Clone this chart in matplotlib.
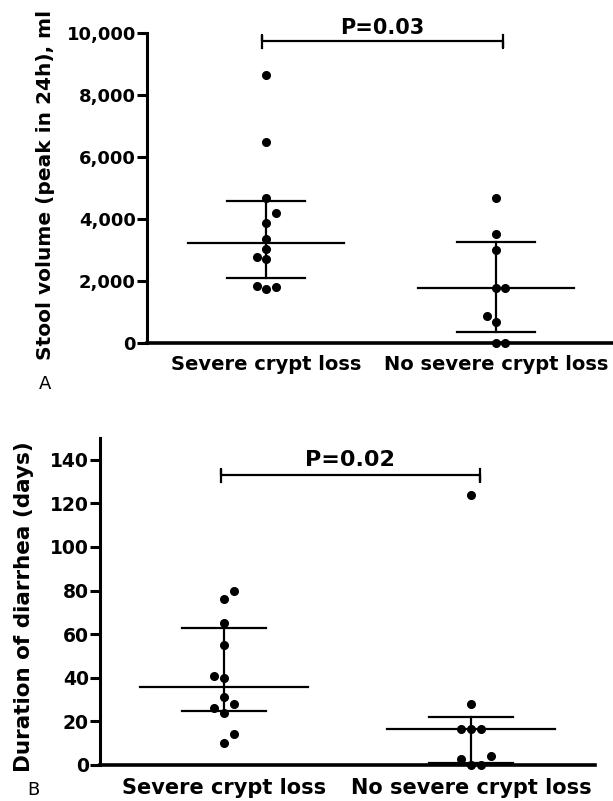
import matplotlib
matplotlib.use("Agg")
import matplotlib.pyplot as plt

# groups on the x axis
groups = ["Severe crypt loss", "No severe crypt loss"]

# panel A: peak stool volume in 24h (ml)
stool_severe = [8630, 6480, 4690, 4200, 3870, 3350, 3030, 2760, 2700, 1850, 1750, 1815]
stool_severe_dx = [0, 0, 0, 0.04, 0, 0, 0, -0.04, 0, -0.04, 0, 0.04]
stool_none = [4680, 3510, 2990, 1760, 1760, 870, 675, 0, 0]
stool_none_dx = [0, 0, 0, 0, 0.04, -0.04, 0, 0, 0.04]
stool_median = [3210, 1780]
stool_q1 = [2090, 350]
stool_q3 = [4590, 3260]
stool_ticks = [0, 2000, 4000, 6000, 8000, 10000]
stool_ticklabels = ["0", "2,000", "4,000", "6,000", "8,000", "10,000"]

# panel B: duration of diarrhea (days)
days_severe = [80, 76, 65, 55, 41, 40, 31, 28, 26, 24, 14, 10]
days_severe_dx = [0.04, 0, 0, 0, -0.04, 0, 0, 0.04, -0.04, 0, 0.04, 0]
days_none = [124, 28, 16.4, 16.4, 16.4, 2.6, 4.1, 0, 0]
days_none_dx = [0, 0, -0.04, 0, 0.04, -0.04, 0.08, 0, 0.04]
days_median = [35.8, 16.4]
days_q1 = [24.8, 1]
days_q3 = [62.8, 22]
days_ticks = [0, 20, 40, 60, 80, 100, 120, 140]

W, H = 613, 801
fig = plt.figure(figsize=(W / 100, H / 100), dpi=100)
plt.rcParams['font.family'] = ['DejaVu Sans']


def px(x0, y_top, x1, y_bot):
    # convert pixel box to figure fraction
    return [x0 / W, 1 - y_bot / H, (x1 - x0) / W, (y_bot - y_top) / H]


def draw_panel(ax, vals, dxs, med, q1, q3, tick_fs, label_fs):
    for i in range(2):
        xc = i + 1
        xs = [xc + d for d in dxs[i]]
        ax.plot(xs, vals[i], 'o', color='black', ms=5.5, clip_on=False, zorder=3)
        ax.plot([xc - 0.34, xc + 0.34], [med[i], med[i]], color='black', lw=1.6)
        ax.plot([xc - 0.17, xc + 0.17], [q1[i], q1[i]], color='black', lw=1.6)
        ax.plot([xc - 0.17, xc + 0.17], [q3[i], q3[i]], color='black', lw=1.6)
        ax.plot([xc, xc], [q1[i], q3[i]], color='black', lw=1.6)
    for s in ['top', 'right']:
        ax.spines[s].set_visible(False)
    ax.spines['left'].set_linewidth(2.2)
    ax.spines['bottom'].set_linewidth(2.6)
    ax.set_xticks([1, 2])
    ax.set_xticklabels(groups, fontsize=label_fs, fontweight='bold')
    ax.tick_params(axis='x', length=0, pad=9)
    ax.tick_params(axis='y', length=7, width=2.2, pad=1, labelsize=tick_fs)
    for t in ax.get_yticklabels():
        t.set_fontweight('bold')


# ---- panel A
axA = fig.add_axes(px(147, 33, 613, 343))
axA.set_xlim(0.48, 2.51)
axA.set_ylim(0, 10000)
axA.set_yticks(stool_ticks)
axA.set_yticklabels(stool_ticklabels)
draw_panel(axA, [stool_severe, stool_none], [stool_severe_dx, stool_none_dx],
           stool_median, stool_q1, stool_q3, 13, 14)
axA.plot([0.98, 0.98, 0.98, 2.03, 2.03, 2.03], [9510, 9950, 9730, 9730, 9510, 9950],
         color='black', lw=1.6, clip_on=False)
axA.text(1.506, 10160, "P=0.03", ha='center', va='center', fontsize=15,
         fontweight='bold', clip_on=False)
fig.text(46 / W, 1 - 185 / H, "Stool volume (peak in 24h), ml", rotation=90,
         ha='center', va='center', fontsize=14.5, fontweight='bold')
fig.text(45 / W, 1 - 384 / H, "A", ha='center', va='center', fontsize=13)

# ---- panel B
axB = fig.add_axes(px(100, 438, 595, 765))
axB.set_xlim(0.5, 2.5)
axB.set_ylim(0, 150)
axB.set_yticks(days_ticks)
draw_panel(axB, [days_severe, days_none], [days_severe_dx, days_none_dx],
           days_median, days_q1, days_q3, 13.5, 15)
axB.plot([0.99, 0.99, 0.99, 2.034, 2.034, 2.034], [130, 136, 133, 133, 130, 136],
         color='black', lw=1.6, clip_on=False)
axB.text(1.508, 140, "P=0.02", ha='center', va='center', fontsize=16,
         fontweight='bold', clip_on=False)
fig.text(24 / W, 1 - 607 / H, "Duration of diarrhea (days)", rotation=90,
         ha='center', va='center', fontsize=15.5, fontweight='bold')
fig.text(33 / W, 1 - 790 / H, "B", ha='center', va='center', fontsize=13)

fig.savefig("out.png", dpi=100, facecolor='white')
